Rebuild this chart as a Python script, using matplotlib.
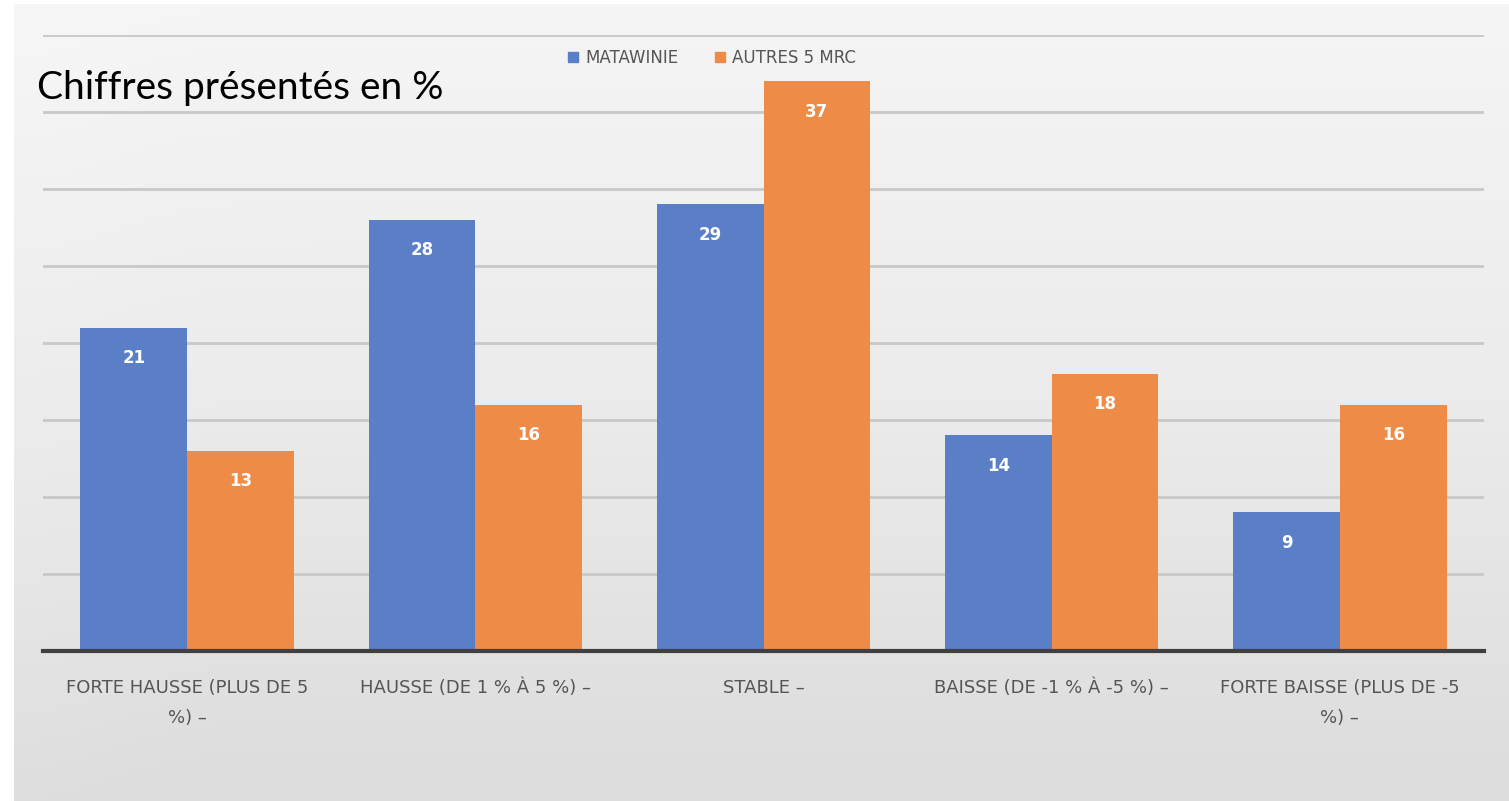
import numpy as np
import matplotlib.pyplot as plt
from matplotlib.patches import Patch
from matplotlib.colors import LinearSegmentedColormap

# Données (en %)
categories = [
    "FORTE HAUSSE (PLUS DE 5\n%) –",
    "HAUSSE (DE 1 % À 5 %) –",
    "STABLE –",
    "BAISSE (DE -1 % À -5 %) –",
    "FORTE BAISSE (PLUS DE -5\n%) –",
]
matawinie = [21, 28, 29, 14, 9]
autres_mrc = [13, 16, 37, 18, 16]
series_noms = ["MATAWINIE", "AUTRES 5 MRC"]

bleu = "#5a7fc7"
orange = "#ee8b47"
gris_texte = "#555555"
police = ["Liberation Sans Narrow", "DejaVu Sans"]

fig = plt.figure(figsize=(15.09, 8.01), dpi=100)
fig.patch.set_facecolor("white")

# fond dégradé du panneau, clair en haut, gris en bas
fond = fig.add_axes([14 / 1509, 0, 1 - 14 / 1509, 1 - 4 / 801])
cmap_fond = LinearSegmentedColormap.from_list("fond", ["#f5f5f5", "#ebebeb", "#dcdcdc"])
yy = np.linspace(0, 1, 256).reshape(-1, 1)
xx = np.linspace(0, 1, 64).reshape(1, -1)
grad = yy - 0.06 * np.exp(-(xx / 0.08) ** 2)
fond.imshow(grad, aspect="auto", cmap=cmap_fond, vmin=0, vmax=1,
            extent=[0, 1, 0, 1], origin="upper", interpolation="bicubic")
fond.set_axis_off()

ax = fig.add_axes([43 / 1509, 150 / 801, (1484 - 43) / 1509, (651 - 35) / 801])
ax.set_facecolor("none")

x = np.arange(len(categories))
w = 0.37
b1 = ax.bar(x - w / 2, matawinie, w, color=bleu, zorder=3)
b2 = ax.bar(x + w / 2, autres_mrc, w, color=orange, zorder=3)

for barres in (b1, b2):
    for r in barres:
        ax.annotate(f"{r.get_height():.0f}",
                    (r.get_x() + r.get_width() / 2, r.get_height()),
                    xytext=(0, -22), textcoords="offset points",
                    ha="center", va="center", color="white",
                    fontsize=12, fontweight="bold", family=police, zorder=4)

ax.set_xlim(-0.5, 4.5)
ax.set_ylim(0, 40)
ax.set_yticks(np.arange(0, 41, 5))
ax.yaxis.grid(True, color="#c8c8c8", linewidth=2, zorder=0)
ax.tick_params(axis="y", left=False, labelleft=False)
ax.tick_params(axis="x", length=0, pad=20)
ax.set_xticks(x)
ax.set_xticklabels(categories, fontsize=13, color=gris_texte,
                   family=police, linespacing=1.9)
for s in ["top", "right", "left"]:
    ax.spines[s].set_visible(False)
ax.spines["bottom"].set_color("#404040")
ax.spines["bottom"].set_linewidth(3)
ax.spines["bottom"].set_zorder(5)

poignees = [Patch(color=bleu), Patch(color=orange)]
fig.legend(poignees, series_noms, loc="center", bbox_to_anchor=(712 / 1509, 1 - 58 / 801),
           ncol=2, frameon=False, handlelength=0.6, handleheight=0.6,
           handletextpad=0.4, columnspacing=2.2,
           prop={"family": police, "size": 12}, labelcolor=gris_texte)

fig.text(37 / 1509, 1 - 88 / 801, "Chiffres présentés en %", fontsize=28,
         family=["Lato", "DejaVu Sans"], color="black", va="center")

fig.savefig("out.png", dpi=100)
